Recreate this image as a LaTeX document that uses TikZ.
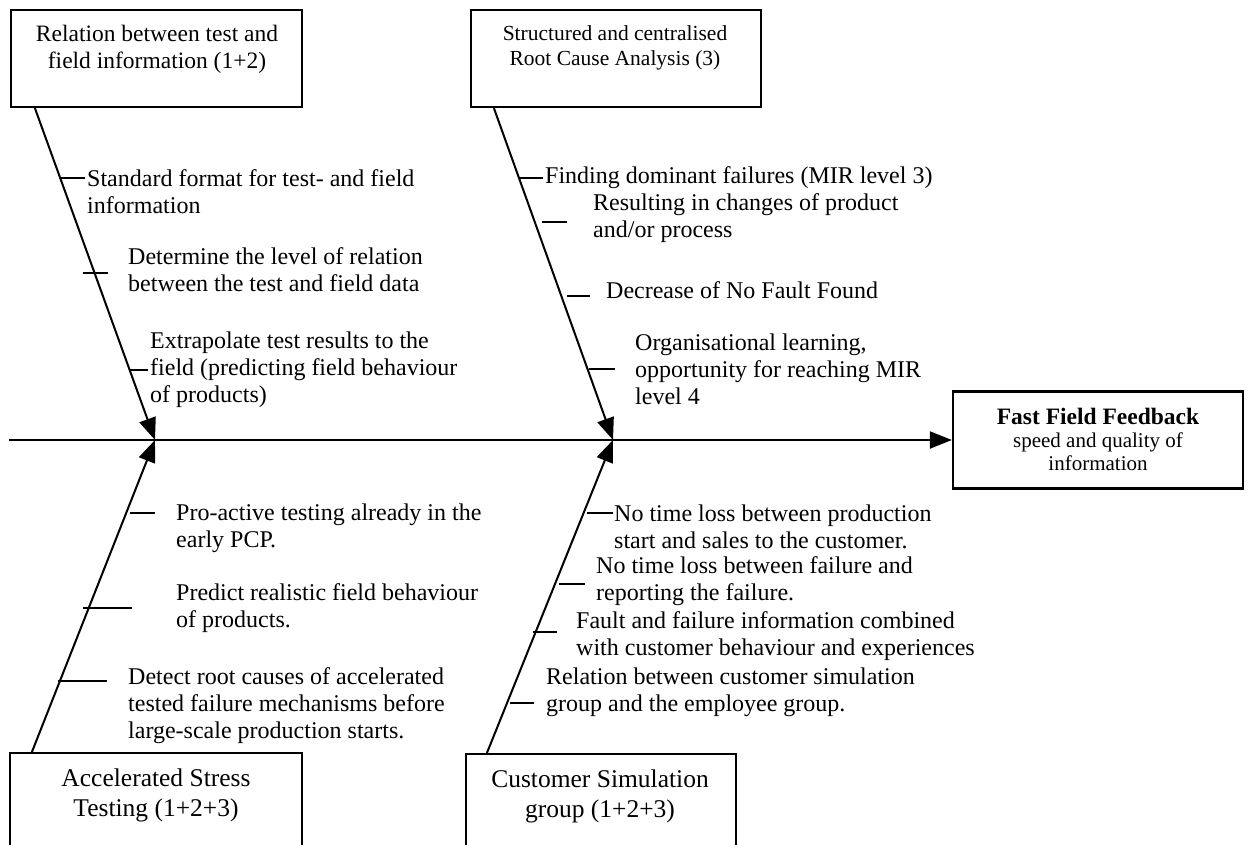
\documentclass[tikz,border=0pt]{standalone}
\usepackage{fontspec}
\setmainfont{Liberation Serif}
\usetikzlibrary{arrows.meta,calc}
\begin{document}
\begin{tikzpicture}[x=1pt,y=-1pt,
  box/.style={draw, rectangle, line width=2.2pt, inner sep=0pt},
  boxtext/.style={align=center, inner sep=0pt},
  note/.style={anchor=west, align=left, inner sep=0pt, font=\fontsize{24}{27}\selectfont},
  bone/.style={line width=2pt, -{Triangle[length=22pt,width=17pt]}},
  tickline/.style={line width=2pt}]
\useasboundingbox (0,0) rectangle (1249,844);
\fill[white] (0,0) rectangle (1249,844);

% cause boxes
\node[box, minimum width=291, minimum height=97] (rel) at (156.5,58.5) {};
\node[boxtext, font=\fontsize{23.5}{27}\selectfont] (relT) at (157,49.5)
  {Relation between test and\\field information (1+2)};
\node[box, minimum width=290, minimum height=97] (rca) at (616,58.5) {};
\node[boxtext, font=\fontsize{21.5}{25}\selectfont] (rcaT) at (615,47.5)
  {Structured and centralised\\Root Cause Analysis (3)};
\node[box, minimum width=292, minimum height=120, anchor=north] (ast) at (156,752) {};
\node[boxtext, font=\fontsize{25.5}{30}\selectfont] (astT) at (156,795)
  {Accelerated Stress\\Testing (1+2+3)};
\node[box, minimum width=270, minimum height=120, anchor=north] (csg) at (601,753) {};
\node[boxtext, font=\fontsize{25.5}{30}\selectfont] (csgT) at (600,796)
  {Customer Simulation\\group (1+2+3)};

% effect box
\node[box, minimum width=290, minimum height=97] (fff) at (1098,440) {};
\node[boxtext, font=\fontsize{21}{23}\selectfont] (fffT) at (1098,439)
  {{\fontsize{23.5}{25}\selectfont\bfseries Fast Field Feedback}\\speed and quality of\\information};

% spine and bones
\coordinate (spine) at (9,440);
\coordinate (hubA) at (155,440);
\coordinate (hubB) at (613,440);
\draw[bone] (spine) -- (fff.west);
\draw[bone] ([xshift=25]rel.south west) -- (hubA);
\draw[bone] ([xshift=24]rca.south west) -- (hubB);
\draw[bone] ([xshift=23]ast.north west) -- (hubA);
\draw[bone] ([xshift=22]csg.north west) -- (hubB);

% ticks, upper left bone
\draw[tickline] (61,178) -- (85,178);
\draw[tickline] (83,273) -- (108,273);
\draw[tickline] (129,370) -- (148,370);
\node[note] (a1) at (87,191.5) {Standard format for test- and field\\information};
\node[note] (a2) at (128,270) {Determine the level of relation\\between the test and field data};
\node[note] (a3) at (150,370) {Extrapolate test results to the\\field (predicting field behaviour\\of products)};

% ticks, upper middle bone
\draw[tickline] (520,178) -- (543,178);
\draw[tickline] (542,222) -- (567,222);
\draw[tickline] (567,296) -- (590,296);
\draw[tickline] (589,369) -- (615,369);
\node[note] (b1) at (545,178) {Finding dominant failures (MIR level 3)};
\node[note] (b2) at (593,218.5) {Resulting in changes of product\\and/or process};
\node[note] (b3) at (606,290) {Decrease of No Fault Found};
\node[note] (b4) at (635,369) {Organisational learning,\\opportunity for reaching MIR\\level 4};

% ticks, lower left bone
\draw[tickline] (130,513) -- (155,513);
\draw[tickline] (83,608) -- (132,608);
\draw[tickline] (58,681) -- (107,681);
\node[note] (c1) at (176,528) {Pro-active testing already in the\\early PCP.};
\node[note] (c2) at (176,608.5) {Predict realistic field behaviour\\of products.};
\node[note] (c3) at (128,706) {Detect root causes of accelerated\\tested failure mechanisms before\\large-scale production starts.};

% ticks, lower middle bone
\draw[tickline] (587,513) -- (613,513);
\draw[tickline] (559,584) -- (585,584);
\draw[tickline] (533,632) -- (557,632);
\draw[tickline] (510,703) -- (534,703);
\node[note] (d1) at (614,526.5) {No time loss between production\\start and sales to the customer.};
\node[note] (d2) at (596,581) {No time loss between failure and\\reporting the failure.};
\node[note] (d3) at (576,636.5) {Fault and failure information combined\\with customer behaviour and experiences};
\node[note] (d4) at (546,692) {Relation between customer simulation\\group and the employee group.};
\end{tikzpicture}
\end{document}
